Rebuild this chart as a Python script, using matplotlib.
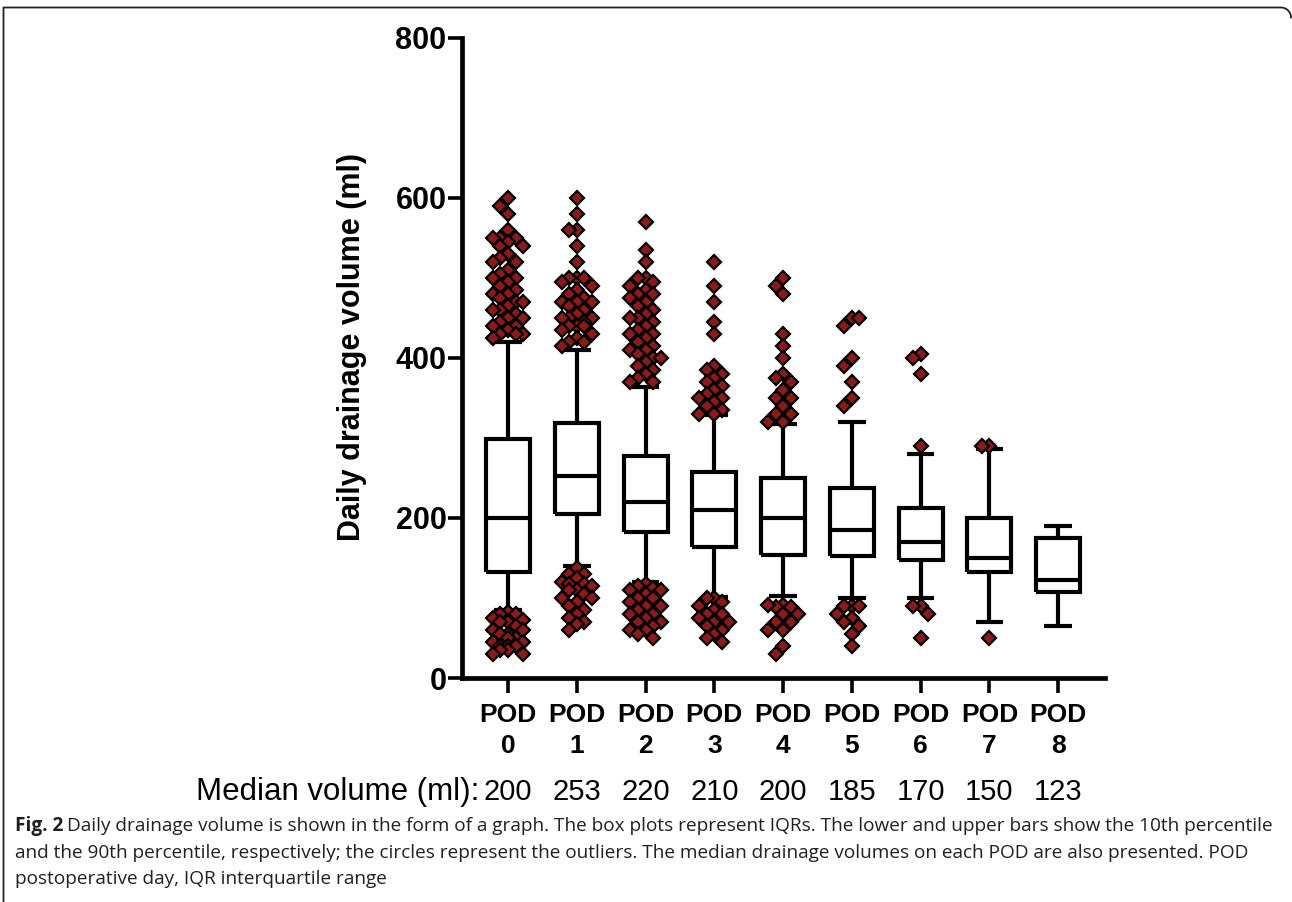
"""Daily drainage volume per POD - box plots (10th/90th pct whiskers) with outliers."""
import numpy as np
import matplotlib
matplotlib.use("Agg")
import matplotlib.pyplot as plt
from matplotlib.lines import Line2D
from matplotlib.transforms import blended_transform_factory

plt.rcParams["font.family"] = ["Liberation Sans", "DejaVu Sans"]

# ---- data ----
PODS = ["POD\n0", "POD\n1", "POD\n2", "POD\n3", "POD\n4", "POD\n5", "POD\n6", "POD\n7", "POD\n8"]
MEDIAN_LABELS = ["200", "253", "220", "210", "200", "185", "170", "150", "123"]

WHIS_LO = [85, 140, 120, 101, 102, 100, 100, 70, 65]
Q1 = [133, 205, 182, 164, 154, 153, 148, 132, 108]
MED = [200, 253, 220, 210, 200, 185, 170, 150, 123]
Q3 = [298, 318, 277, 258, 250, 238, 212, 200, 175]
WHIS_HI = [420, 410, 364, 328, 317, 320, 280, 286, 190]

OUT_HI = [
    [600, 590, 580, 560, 550, 550, 550, 545, 540, 540, 530, 525, 520, 520, 510,
     505, 500, 500, 495, 490, 485, 480, 480, 475, 470, 470, 465, 460, 460, 455,
     450, 450, 445, 440, 440, 435, 430, 430, 430, 425],
    [600, 580, 560, 560, 540, 520, 500, 500, 500, 495, 490, 485, 480, 475, 470,
     470, 470, 465, 460, 455, 450, 450, 450, 445, 440, 440, 440, 435, 430, 425,
     420, 420, 415],
    [570, 535, 520, 500, 500, 495, 490, 485, 480, 480, 475, 470, 465, 460, 455,
     450, 450, 445, 440, 435, 430, 430, 425, 420, 415, 410, 410, 405, 400, 400,
     395, 390, 385, 380, 375, 370, 370],
    [520, 490, 470, 445, 430, 390, 385, 380, 375, 370, 365, 360, 355, 350, 350,
     345, 340, 335, 330, 330],
    [500, 490, 480, 430, 415, 400, 380, 375, 370, 360, 350, 350, 340, 330, 330,
     320, 320],
    [450, 440, 450, 400, 390, 370, 350, 340],
    [405, 400, 380, 290],
    [290, 290],
    [],
]
OUT_LO = [
    [82, 80, 80, 75, 72, 70, 70, 65, 60, 60, 55, 55, 50, 50, 45, 45, 40, 40, 40,
     35, 35, 30, 30],
    [137, 130, 130, 125, 120, 118, 118, 115, 110, 110, 105, 100, 100, 95, 90, 85,
     80, 75, 70, 68, 60],
    [118, 115, 112, 110, 110, 105, 100, 100, 95, 90, 90, 85, 80, 80, 75, 70, 70,
     65, 60, 60, 55, 50],
    [100, 100, 95, 90, 85, 80, 80, 75, 70, 70, 65, 60, 55, 50, 45],
    [91, 89, 89, 91, 80, 80, 70, 70, 60, 60, 40, 30],
    [90, 90, 90, 80, 75, 70, 65, 55, 40],
    [90, 90, 80, 50],
    [50],
    [],
]

CAPTION = [
    "Daily drainage volume is shown in the form of a graph. The box plots represent IQRs. "
    "The lower and upper bars show the 10th percentile",
    "and the 90th percentile, respectively; the circles represent the outliers. "
    "The median drainage volumes on each POD are also presented. POD",
    "postoperative day, IQR interquartile range",
]


def swarm_offsets(vals, step=0.11, gap=12, max_col=2):
    """GraphPad-like column layout so the diamonds do not pile up."""
    order = [0]
    for k in range(1, max_col + 1):
        order += [-k, k]
    cols = {}
    offs = []
    for v in vals:
        pick = None
        for c in order:
            if all(abs(v - u) >= gap for u in cols.get(c, [])):
                pick = c
                break
        if pick is None:
            pick = max(order[:3], key=lambda c: min(abs(v - u) for u in cols[c]))
        cols.setdefault(pick, []).append(v)
        offs.append(pick * step)
    return offs


W, H = 1292, 902
fig = plt.figure(figsize=(W / 100, H / 100), dpi=100)
fig.patch.set_facecolor("white")

ax = fig.add_axes([461.7 / W, 1 - 678 / H, (1105 - 461.7) / W, (678 - 37.7) / H])
ax.set_xlim(-0.673, 8.68)
ax.set_ylim(0, 800)

stats = [dict(med=m, q1=a, q3=b, whislo=lo, whishi=hi, fliers=[])
         for m, a, b, lo, hi in zip(MED, Q1, Q3, WHIS_LO, WHIS_HI)]
lp = dict(color="black", linewidth=3.0, solid_joinstyle="miter", solid_capstyle="butt")
ax.bxp(stats, positions=range(len(PODS)), widths=0.64, capwidths=0.4,
       showfliers=False, boxprops=lp, whiskerprops=lp, capprops=lp, medianprops=lp)

for i in range(len(PODS)):
    vals = OUT_HI[i] + OUT_LO[i]
    if not vals:
        continue
    xs = np.array(swarm_offsets(vals)) + i
    ax.plot(xs, vals, linestyle="none", marker="D", markersize=7.2,
            markerfacecolor="#8B1A1A", markeredgecolor="black", markeredgewidth=1.6,
            zorder=4, clip_on=False)

for s in ["top", "right"]:
    ax.spines[s].set_visible(False)
for s in ["left", "bottom"]:
    ax.spines[s].set_linewidth(3.4)
    ax.spines[s].set_capstyle("projecting")

ax.set_yticks([0, 200, 400, 600, 800])
ax.set_xticks(range(len(PODS)))
ax.set_xticklabels(PODS)
ax.tick_params(axis="y", length=10, width=2.6, pad=1, labelsize=22)
ax.tick_params(axis="x", length=11, width=2.6, pad=7, labelsize=19)
for lab in ax.get_xticklabels() + ax.get_yticklabels():
    lab.set_fontweight("bold")
for lab in ax.get_xticklabels():
    lab.set_linespacing(1.35)

fig.text(352 / W, 1 - 347 / H, "Daily drainage volume (ml)", rotation=90,
         ha="center", va="center", fontsize=22, fontweight="bold")

# median volume row under the tick labels
row_y = 1 - 800 / H
tr = blended_transform_factory(ax.transData, fig.transFigure)
fig.text(479 / W, row_y, "Median volume (ml):", ha="right", va="baseline", fontsize=22.5)
for i, lab in enumerate(MEDIAN_LABELS):
    ax.text(i, row_y, lab, transform=tr, ha="center", va="baseline", fontsize=21,
            clip_on=False)

# caption
cap_kw = dict(family=["Open Sans", "DejaVu Sans"], fontsize=13.7, color="#231F20",
              va="baseline", ha="left")
x0 = 15 / W
t = fig.text(x0, 1 - 831 / H, "Fig. 2", fontweight="bold", **cap_kw)
r = fig.canvas.get_renderer()
bb = t.get_window_extent(r)
fig.text((bb.x1 + 4) / W, 1 - 831 / H, CAPTION[0], **cap_kw)
fig.text(x0, 1 - 857.5 / H, CAPTION[1], **cap_kw)
fig.text(x0, 1 - 884 / H, CAPTION[2], **cap_kw)

# frame: left + top edge with rounded top-right corner
rad = 10
ang = np.linspace(np.pi / 2, 0, 12)
fx = np.concatenate([[3.5, 3.5], W - 1 - rad + rad * np.cos(ang)])
fy = np.concatenate([[H, 7.5], 7.5 + rad - rad * np.sin(ang)])
fig.add_artist(Line2D(fx / W, 1 - fy / H, transform=fig.transFigure,
                      color="#222222", linewidth=1.3))

fig.savefig("out.png", dpi=100, facecolor="white")
